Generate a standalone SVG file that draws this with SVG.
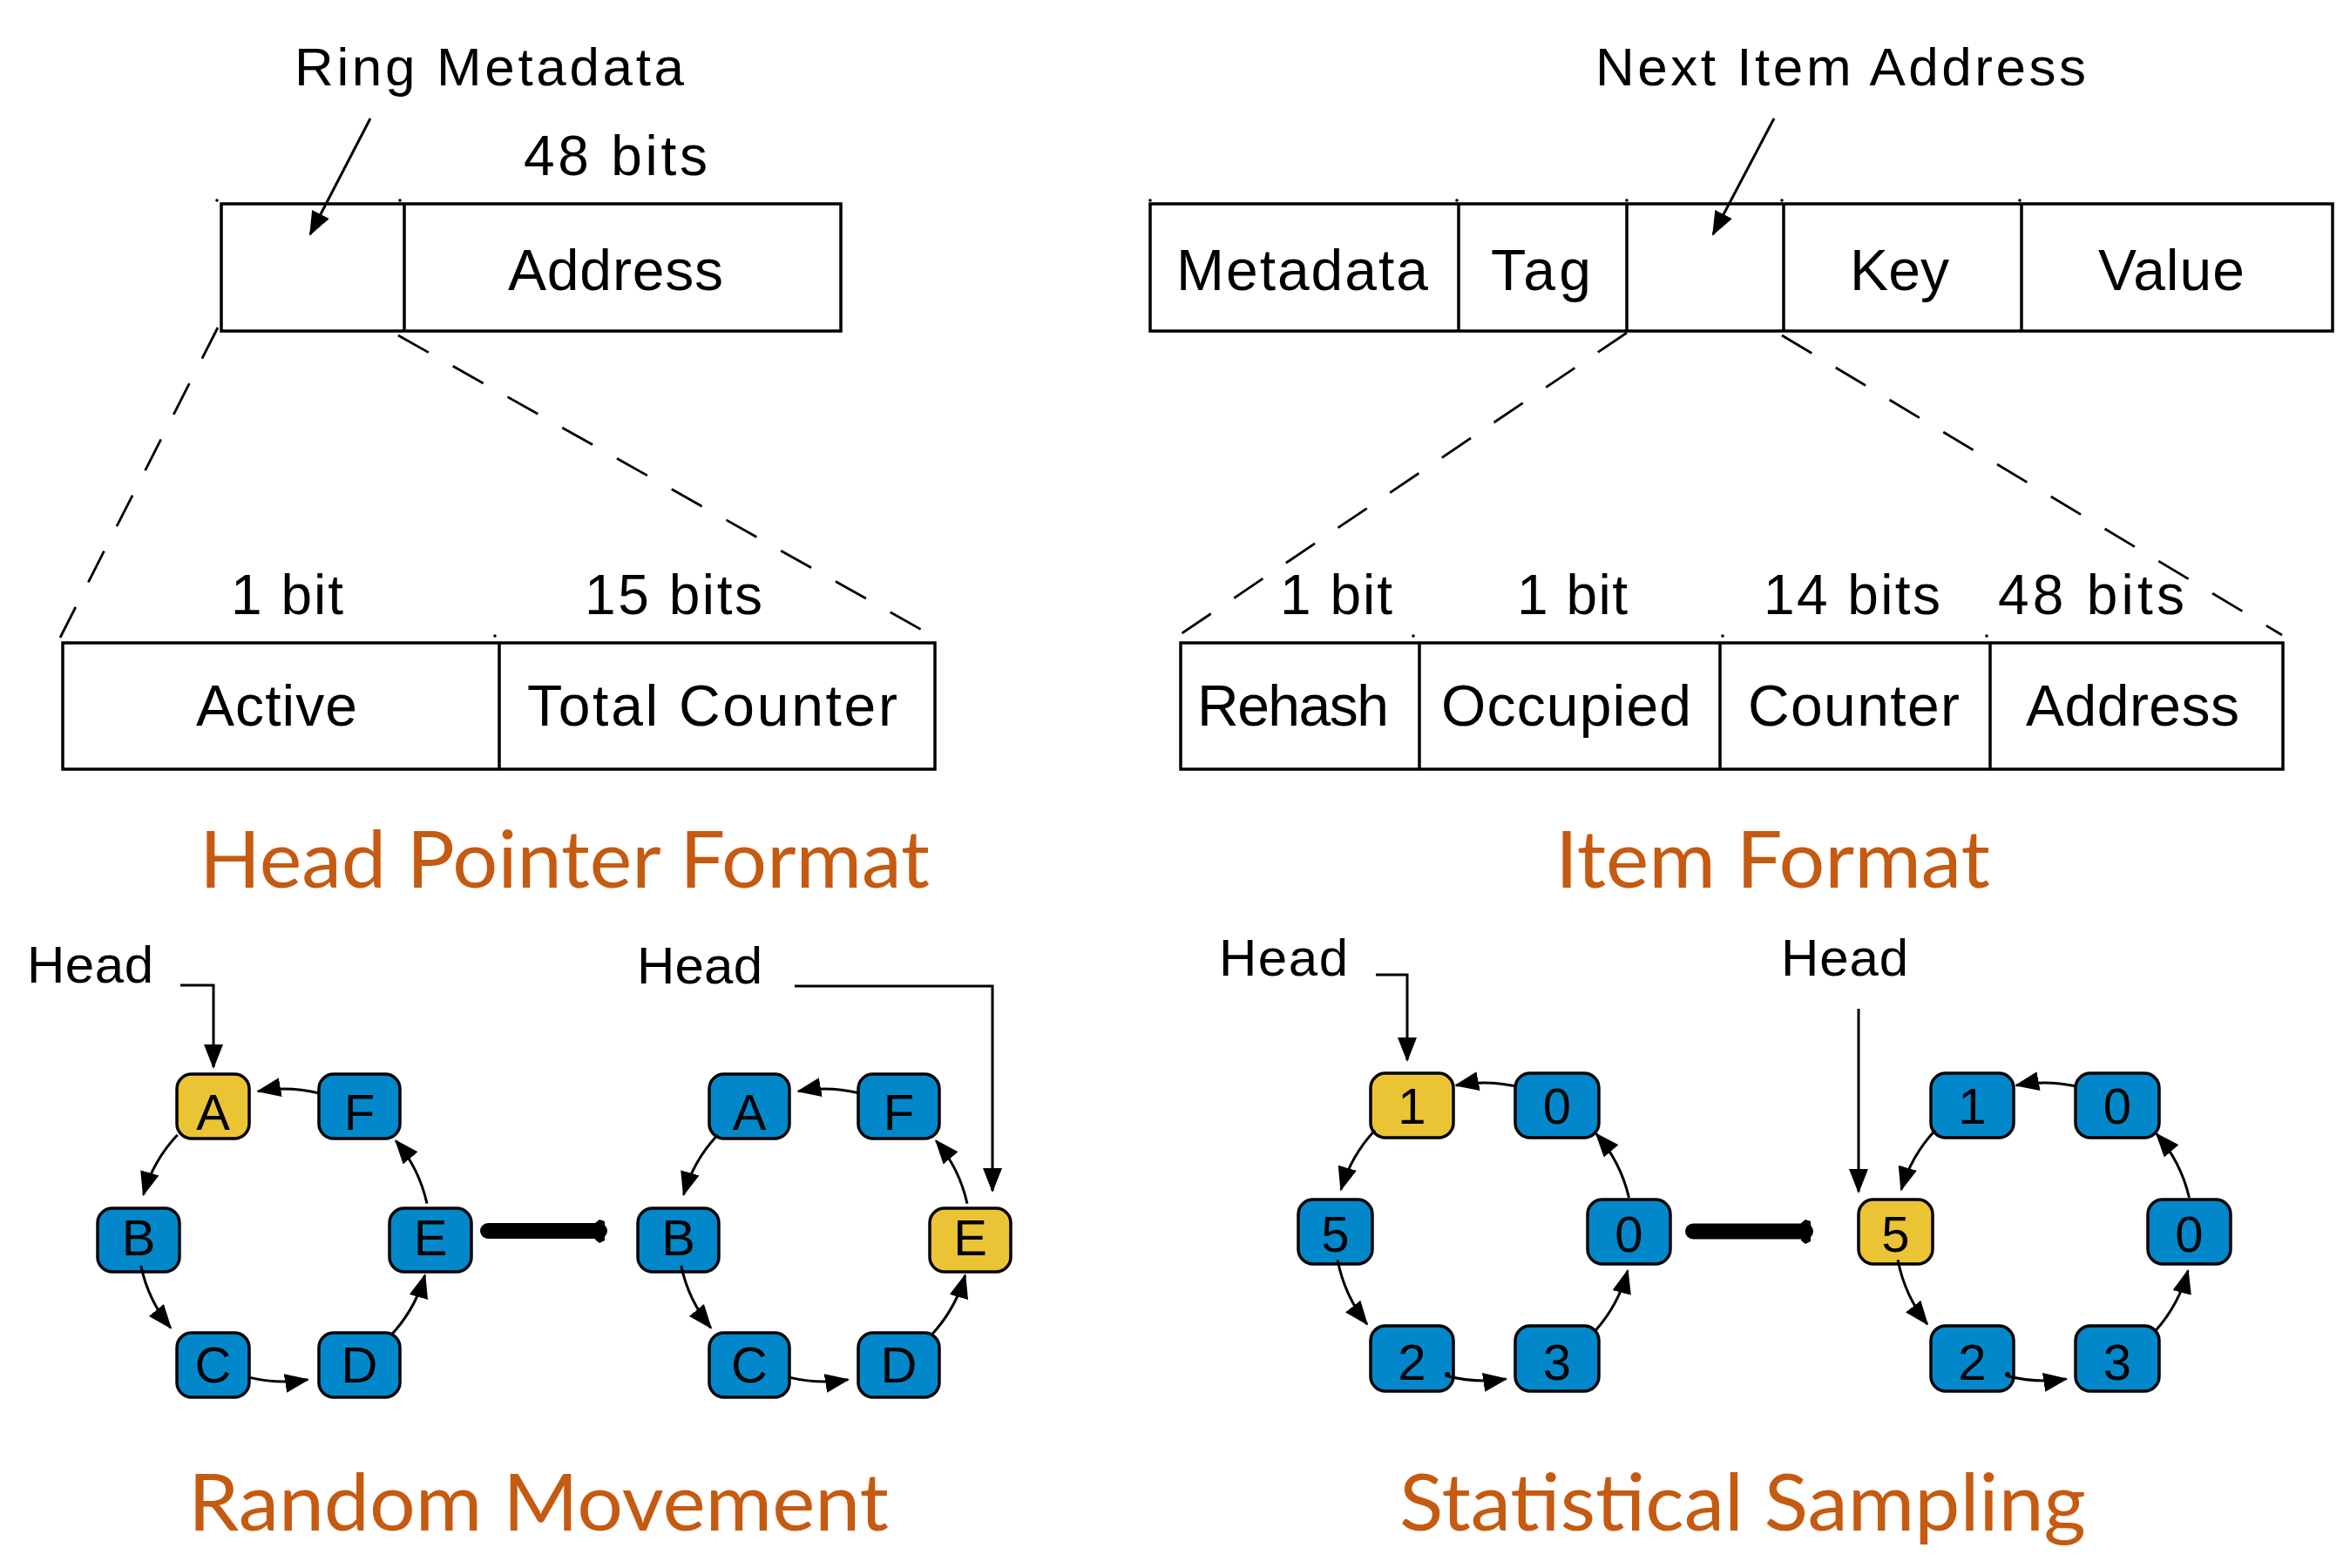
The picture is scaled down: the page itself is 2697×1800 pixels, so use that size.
<svg xmlns="http://www.w3.org/2000/svg" width="2697" height="1800" viewBox="0 0 2697 1800">
  <style>
    .lbl { font-family: "Liberation Sans", Arial, sans-serif; font-size: 66px; fill: #000; }
    .bits { font-family: "Liberation Sans", Arial, sans-serif; font-size: 64px; fill: #000; }
    .cap { font-family: "Liberation Sans", Arial, sans-serif; font-size: 62px; fill: #000; }
    .hd { font-family: "Liberation Sans", Arial, sans-serif; font-size: 60px; fill: #000; }
    .ttl { font-family: Lato, "Open Sans", sans-serif; font-size: 91px; fill: #C55A11; }
    .cell { fill: #fff; stroke: #000; stroke-width: 3.5; }
    .div { stroke: #000; stroke-width: 3.5; }
    .dash { fill: none; stroke: #000; stroke-width: 2.8; stroke-dasharray: 40 32; }
    .ptr { fill: none; stroke: #000; stroke-width: 3; marker-end: url(#ah); }
    .edge { fill: none; stroke: #000; stroke-width: 3; marker-end: url(#ah); }
    .nb { fill: #0288CA; stroke: #000; stroke-width: 3.5; }
    .ny { fill: #EBC435; stroke: #000; stroke-width: 3.5; }
    .nt { font-family: "Liberation Sans", Arial, sans-serif; font-size: 58px; fill: #000; text-anchor: middle; }
    .big { fill: none; stroke: #000; stroke-width: 18; stroke-linecap: round; }
    .dot { fill: #000; }
  </style>
  <defs>
    <marker id="ah" markerUnits="userSpaceOnUse" viewBox="0 0 28 22" markerWidth="28" markerHeight="22" refX="26" refY="11" orient="auto">
      <path d="M0,0 L28,11 L0,22 z" fill="#000"/>
    </marker>
  </defs>
  <rect width="2697" height="1800" fill="#fff"/>

  <!-- Head pointer format -->
  <g id="head-pointer">
    <rect class="cell" x="254" y="234" width="711" height="146"/>
    <line class="div" x1="464" y1="234" x2="464" y2="380"/>
    <text class="lbl" x="583" y="333" textLength="247" lengthAdjust="spacing">Address</text>
    <text class="bits" x="601" y="201" textLength="211" lengthAdjust="spacing">48 bits</text>
    <text class="cap" x="338" y="98" textLength="447" lengthAdjust="spacing">Ring Metadata</text>
    <circle class="dot" cx="249" cy="230" r="1.8"/>
    <circle class="dot" cx="459" cy="230" r="1.8"/>
  </g>
  <g id="head-pointer-fields">
    <rect class="cell" x="72" y="738" width="1001" height="145"/>
    <line class="div" x1="573" y1="738" x2="573" y2="883"/>
    <text class="lbl" x="225" y="833" textLength="185" lengthAdjust="spacing">Active</text>
    <text class="lbl" x="605" y="833" textLength="425" lengthAdjust="spacing">Total Counter</text>
    <text class="bits" x="265" y="705" textLength="129" lengthAdjust="spacing">1 bit</text>
    <text class="bits" x="671" y="705" textLength="204" lengthAdjust="spacing">15 bits</text>
    <circle class="dot" cx="568" cy="730" r="1.8"/>
  </g>

  <!-- Item format -->
  <g id="item">
    <rect class="cell" x="1320" y="234" width="1357" height="146"/>
    <line class="div" x1="1674" y1="234" x2="1674" y2="380"/>
    <line class="div" x1="1867" y1="234" x2="1867" y2="380"/>
    <line class="div" x1="2047" y1="234" x2="2047" y2="380"/>
    <line class="div" x1="2320" y1="234" x2="2320" y2="380"/>
    <text class="lbl" x="1350" y="333" textLength="289" lengthAdjust="spacing">Metadata</text>
    <text class="lbl" x="1711" y="333" textLength="115" lengthAdjust="spacing">Tag</text>
    <text class="lbl" x="2123" y="333" textLength="114" lengthAdjust="spacing">Key</text>
    <text class="lbl" x="2408" y="333" textLength="168" lengthAdjust="spacing">Value</text>
    <text class="cap" x="1831" y="98" textLength="563" lengthAdjust="spacing">Next Item Address</text>
    <circle class="dot" cx="1320" cy="230" r="1.8"/>
    <circle class="dot" cx="1672" cy="230" r="1.8"/>
    <circle class="dot" cx="1867" cy="230" r="1.8"/>
    <circle class="dot" cx="2045" cy="230" r="1.8"/>
    <circle class="dot" cx="2318" cy="230" r="1.8"/>
  </g>
  <g id="item-next-fields">
    <rect class="cell" x="1355" y="738" width="1265" height="145"/>
    <line class="div" x1="1629" y1="738" x2="1629" y2="883"/>
    <line class="div" x1="1974" y1="738" x2="1974" y2="883"/>
    <line class="div" x1="2284" y1="738" x2="2284" y2="883"/>
    <text class="lbl" x="1374" y="833" textLength="220" lengthAdjust="spacing">Rehash</text>
    <text class="lbl" x="1654" y="833" textLength="287" lengthAdjust="spacing">Occupied</text>
    <text class="lbl" x="2006" y="833" textLength="243" lengthAdjust="spacing">Counter</text>
    <text class="lbl" x="2325" y="833" textLength="245" lengthAdjust="spacing">Address</text>
    <text class="bits" x="1469" y="705" textLength="129" lengthAdjust="spacing">1 bit</text>
    <text class="bits" x="1741" y="705" textLength="127" lengthAdjust="spacing">1 bit</text>
    <text class="bits" x="2024" y="705" textLength="203" lengthAdjust="spacing">14 bits</text>
    <text class="bits" x="2293" y="705" textLength="214" lengthAdjust="spacing">48 bits</text>
    <circle class="dot" cx="1622" cy="730" r="1.8"/>
    <circle class="dot" cx="1977" cy="730" r="1.8"/>
    <circle class="dot" cx="2280" cy="730" r="1.8"/>
  </g>

  <!-- Titles -->
  <g id="titles">
    <text class="ttl" x="229" y="1019" textLength="838" lengthAdjust="spacingAndGlyphs">Head Pointer Format</text>
    <text class="ttl" x="1785" y="1019" textLength="499" lengthAdjust="spacingAndGlyphs">Item Format</text>
    <text class="ttl" x="216" y="1757" textLength="804" lengthAdjust="spacingAndGlyphs">Random Movement</text>
    <text class="ttl" x="1606" y="1757" textLength="788" lengthAdjust="spacingAndGlyphs">Statistical Sampling</text>
  </g>

  <!-- Head labels -->
  <g id="head-labels">
    <text class="hd" x="31" y="1128" textLength="145" lengthAdjust="spacing">Head</text>
    <text class="hd" x="731" y="1129" textLength="144" lengthAdjust="spacing">Head</text>
    <text class="hd" x="1399" y="1120" textLength="148" lengthAdjust="spacing">Head</text>
    <text class="hd" x="2044" y="1120" textLength="146" lengthAdjust="spacing">Head</text>
  </g>

  <!-- Random movement: left ring -->
  <g id="rm1-A"><rect class="ny" x="203" y="1233" width="83" height="74" rx="17"/><text class="nt" x="244.5" y="1297">A</text></g>
  <g id="rm1-F"><rect class="nb" x="366" y="1233" width="93" height="74" rx="17"/><text class="nt" x="412.5" y="1297">F</text></g>
  <g id="rm1-B"><rect class="nb" x="112" y="1387" width="94" height="73" rx="17"/><text class="nt" x="159" y="1441">B</text></g>
  <g id="rm1-E"><rect class="nb" x="447" y="1387" width="94" height="73" rx="17"/><text class="nt" x="494" y="1441">E</text></g>
  <g id="rm1-C"><rect class="nb" x="203" y="1530" width="83" height="74" rx="17"/><text class="nt" x="244.5" y="1587">C</text></g>
  <g id="rm1-D"><rect class="nb" x="366" y="1530" width="93" height="74" rx="17"/><text class="nt" x="412.5" y="1587">D</text></g>

  <!-- Random movement: right ring -->
  <g id="rm2-A"><rect class="nb" x="814" y="1233" width="92" height="74" rx="17"/><text class="nt" x="860" y="1297">A</text></g>
  <g id="rm2-F"><rect class="nb" x="985" y="1233" width="93" height="74" rx="17"/><text class="nt" x="1031.5" y="1297">F</text></g>
  <g id="rm2-B"><rect class="nb" x="732" y="1387" width="93" height="73" rx="17"/><text class="nt" x="778.5" y="1441">B</text></g>
  <g id="rm2-E"><rect class="ny" x="1067" y="1387" width="93" height="73" rx="17"/><text class="nt" x="1113.5" y="1441">E</text></g>
  <g id="rm2-C"><rect class="nb" x="814" y="1530" width="92" height="74" rx="17"/><text class="nt" x="860" y="1587">C</text></g>
  <g id="rm2-D"><rect class="nb" x="985" y="1530" width="93" height="74" rx="17"/><text class="nt" x="1031.5" y="1587">D</text></g>

  <!-- Statistical sampling: left ring -->
  <g id="ss1-n1"><rect class="ny" x="1573" y="1232" width="95" height="74" rx="17"/><text class="nt" x="1620.5" y="1290">1</text></g>
  <g id="ss1-n0a"><rect class="nb" x="1739" y="1232" width="96" height="74" rx="17"/><text class="nt" x="1787" y="1290">0</text></g>
  <g id="ss1-n5"><rect class="nb" x="1490" y="1377" width="85" height="74" rx="17"/><text class="nt" x="1532.5" y="1437">5</text></g>
  <g id="ss1-n0b"><rect class="nb" x="1822" y="1377" width="95" height="74" rx="17"/><text class="nt" x="1869.5" y="1437">0</text></g>
  <g id="ss1-n2"><rect class="nb" x="1573" y="1522" width="95" height="75" rx="17"/><text class="nt" x="1620.5" y="1584">2</text></g>
  <g id="ss1-n3"><rect class="nb" x="1739" y="1522" width="96" height="75" rx="17"/><text class="nt" x="1787" y="1584">3</text></g>

  <!-- Statistical sampling: right ring -->
  <g id="ss2-n1"><rect class="nb" x="2216" y="1232" width="95" height="74" rx="17"/><text class="nt" x="2263.5" y="1290">1</text></g>
  <g id="ss2-n0a"><rect class="nb" x="2382" y="1232" width="96" height="74" rx="17"/><text class="nt" x="2430" y="1290">0</text></g>
  <g id="ss2-n5"><rect class="ny" x="2133" y="1377" width="85" height="74" rx="17"/><text class="nt" x="2175.5" y="1437">5</text></g>
  <g id="ss2-n0b"><rect class="nb" x="2465" y="1377" width="95" height="74" rx="17"/><text class="nt" x="2512.5" y="1437">0</text></g>
  <g id="ss2-n2"><rect class="nb" x="2216" y="1522" width="95" height="75" rx="17"/><text class="nt" x="2263.5" y="1584">2</text></g>
  <g id="ss2-n3"><rect class="nb" x="2382" y="1522" width="96" height="75" rx="17"/><text class="nt" x="2430" y="1584">3</text></g>

  <!-- Connectors -->
  <g id="connectors">
    <!-- zoom-out dashed guides -->
    <line class="dash" x1="250" y1="376" x2="69" y2="732"/>
    <line class="dash" x1="457" y1="385" x2="1063" y2="726"/>
    <line class="dash" x1="1867" y1="382" x2="1349" y2="732"/>
    <line class="dash" x1="2045" y1="385" x2="2619" y2="729"/>

    <!-- callout arrows -->
    <line class="ptr" x1="425" y1="136" x2="356" y2="269"/>
    <line class="ptr" x1="2036" y1="136" x2="1966" y2="269"/>

    <!-- head pointers -->
    <polyline class="ptr" points="207,1131 245,1131 245,1225"/>
    <polyline class="ptr" points="912,1132 1139,1132 1139,1367"/>
    <polyline class="ptr" points="1579,1119 1615,1119 1615,1217"/>
    <line class="ptr" x1="2133" y1="1158" x2="2133" y2="1368"/>

    <!-- ring edges, random movement left -->
    <path class="edge" d="M365.5,1254.7 A168,168 0 0 0 296.2,1252.7"/>
    <path class="edge" d="M203.7,1302.8 A168,168 0 0 0 164.6,1371.4"/>
    <path class="edge" d="M161.7,1452.9 A168,168 0 0 0 195.8,1524.2"/>
    <path class="edge" d="M286.8,1581.4 A168,168 0 0 0 353.1,1583.8"/>
    <path class="edge" d="M449.3,1532.1 A168,168 0 0 0 487.6,1464.0"/>
    <path class="edge" d="M490.0,1381.6 A168,168 0 0 0 454.3,1309.6"/>

    <!-- ring edges, random movement right -->
    <path class="edge" d="M985.5,1254.7 A168,168 0 0 0 916.2,1252.7"/>
    <path class="edge" d="M823.7,1302.8 A168,168 0 0 0 784.6,1371.4"/>
    <path class="edge" d="M781.7,1452.9 A168,168 0 0 0 815.8,1524.2"/>
    <path class="edge" d="M906.8,1581.4 A168,168 0 0 0 973.1,1583.8"/>
    <path class="edge" d="M1069.3,1532.1 A168,168 0 0 0 1107.6,1464.0"/>
    <path class="edge" d="M1110.0,1381.6 A168,168 0 0 0 1074.3,1309.6"/>

    <!-- ring edges, statistical sampling left -->
    <path class="edge" d="M1738.8,1246.8 A171,171 0 0 0 1671.0,1246.0"/>
    <path class="edge" d="M1577.9,1297.4 A171,171 0 0 0 1539.0,1365.7"/>
    <path class="edge" d="M1535.1,1446.3 A171,171 0 0 0 1568.8,1520.0"/>
    <path class="edge" d="M1660.2,1579.5 A171,171 0 0 0 1728.3,1583.1"/>
    <path class="edge" d="M1830.3,1528.2 A171,171 0 0 0 1868.0,1458.8"/>
    <path class="edge" d="M1869.5,1374.9 A171,171 0 0 0 1832.1,1301.8"/>
    <circle class="dot" cx="1661" cy="1578" r="3"/>

    <!-- ring edges, statistical sampling right -->
    <path class="edge" d="M2381.8,1246.8 A171,171 0 0 0 2314.0,1246.0"/>
    <path class="edge" d="M2220.9,1297.4 A171,171 0 0 0 2182.0,1365.7"/>
    <path class="edge" d="M2178.1,1446.3 A171,171 0 0 0 2211.8,1520.0"/>
    <path class="edge" d="M2303.2,1579.5 A171,171 0 0 0 2371.3,1583.1"/>
    <path class="edge" d="M2473.3,1528.2 A171,171 0 0 0 2511.0,1458.8"/>
    <path class="edge" d="M2512.5,1374.9 A171,171 0 0 0 2475.1,1301.8"/>
    <circle class="dot" cx="2304" cy="1578" r="3"/>

    <!-- transition arrows -->
    <line class="big" x1="560" y1="1413" x2="688" y2="1413"/>
    <path d="M683,1404 L688,1400 L694,1402 L694,1424 L688,1427 L683,1423 z" fill="#000"/>
    <line class="big" x1="1943" y1="1413.5" x2="2072" y2="1413.5"/>
    <path d="M2067,1404 L2072,1400 L2078,1402 L2078,1425 L2072,1428 L2067,1424 z" fill="#000"/>
  </g>
</svg>
